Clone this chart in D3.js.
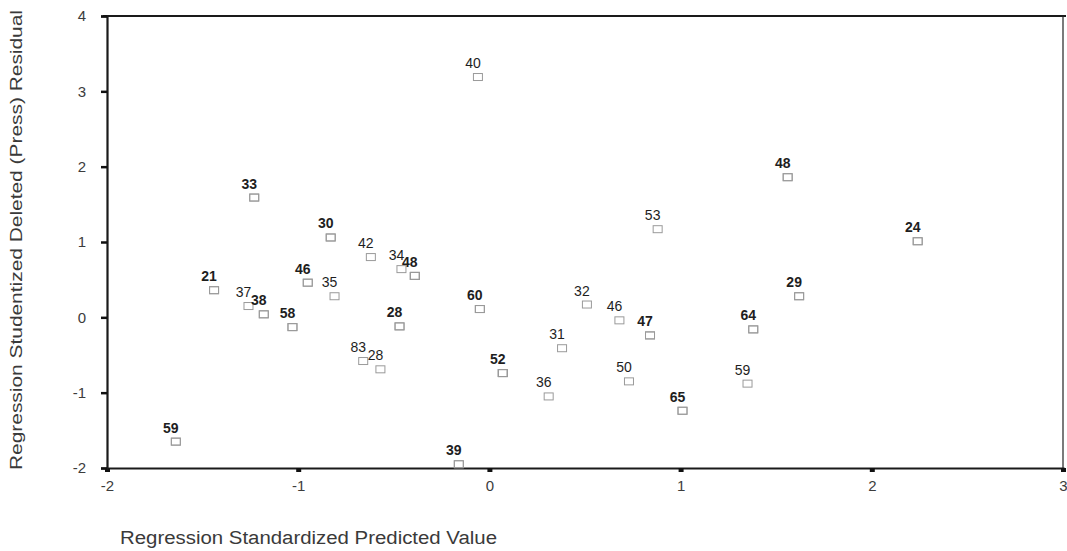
<!DOCTYPE html>
<html>
<head>
<meta charset="utf-8">
<script src="https://cdn.jsdelivr.net/npm/d3@7"></script>
<style>
  body { margin: 0; background: #fff; }
  svg { display: block; font-family: "Liberation Sans", Arial, sans-serif; }
</style>
</head>
<body>
<svg id="chart" width="1067" height="551"></svg>
<script>
// case numbers, standardized predicted value, studentized deleted residual
// (cases that sit on the same spot share coordinates; only one label is printed there)
var caseIds   = ["40", "33", "37", "30", "39", "42", "34", "48", "58", "43",
                 "48", "42", "53", "24", "34", "21", "41", "46", "45", "35",
                 "37", "38", "39", "58", "56", "28", "20", "60", "45", "52",
                 "32", "46", "47", "44", "29", "23", "64", "62", "31", "83",
                 "28", "52", "57", "36", "50", "59", "65", "55", "59", "58",
                 "39", "38"];
var predicted = [-0.06, -1.23, -1.23, -0.83, -0.83, -0.62, -0.46, -0.39, -0.39, -0.39,
                  1.56,  1.56,  0.88,  2.24,  2.24, -1.44, -1.44, -0.95, -0.95, -0.81,
                 -1.26, -1.18, -1.18, -1.03, -1.03, -0.47, -0.47, -0.05, -0.05,  0.07,
                  0.51,  0.68,  0.84,  0.84,  1.62,  1.62,  1.38,  1.38,  0.38, -0.66,
                 -0.57,  0.07,  0.07,  0.31,  0.73,  1.35,  1.01,  1.01, -1.64, -1.64,
                 -0.16, -0.16];
var residual  = [ 3.19,  1.59,  1.59,  1.06,  1.06,  0.80,  0.64,  0.55,  0.55,  0.55,
                  1.86,  1.86,  1.17,  1.01,  1.01,  0.36,  0.36,  0.46,  0.46,  0.28,
                  0.15,  0.04,  0.04, -0.13, -0.13, -0.12, -0.12,  0.11,  0.11, -0.74,
                  0.17, -0.04, -0.24, -0.24,  0.28,  0.28, -0.16, -0.16, -0.41, -0.58,
                 -0.69, -0.74, -0.74, -1.05, -0.85, -0.88, -1.24, -1.24, -1.65, -1.65,
                 -1.95, -1.95];

var xTicks = [-2, -1, 0, 1, 2, 3];
var yTicks = [-2, -1, 0, 1, 2, 3, 4];

var xTitle = "Regression Standardized Predicted Value";
var yTitle = "Regression Studentized Deleted (Press) Residual";

var svg = d3.select("#chart");
var margin = {top: 16, right: 4, bottom: 83, left: 107};
var width = 1067 - margin.left - margin.right,
    height = 551 - margin.top - margin.bottom;

var g = svg.append("g").attr("transform", "translate(" + margin.left + "," + margin.top + ")");

var x = d3.scaleLinear().domain([-2, 3]).range([0, width]);
var y = d3.scaleLinear().domain([-2, 4]).range([height, 0]);

var points = caseIds.map(function(id, i) {
    return {id: id, x: predicted[i], y: residual[i]};
});

// one label per spot, heavier where several cases pile up
var spots = d3.groups(points, function(d) { return d.x + "|" + d.y; })
    .map(function(s) { return {id: s[1][0].id, x: s[1][0].x, y: s[1][0].y, n: s[1].length}; });

var fmt = function(d) { return String(d); };   // plain hyphen minus like the original

// frame: heavy top, thin right
g.append("line").attr("x1", -4).attr("x2", width + 3).attr("y1", 0).attr("y2", 0)
    .attr("stroke", "#1a1a1a").attr("stroke-width", 2);
g.append("line").attr("x1", width).attr("x2", width).attr("y1", 0).attr("y2", height)
    .attr("stroke", "#222").attr("stroke-width", 1.2);

// axes
var xAxis = g.append("g").attr("transform", "translate(0," + height + ")")
    .call(d3.axisBottom(x).tickValues(xTicks).tickSize(4).tickFormat(fmt));
var yAxis = g.append("g")
    .call(d3.axisLeft(y).tickValues(yTicks).tickSize(6).tickFormat(fmt));

[xAxis, yAxis].forEach(function(a) {
    a.attr("font-size", null).attr("font-family", null);
    a.select(".domain").attr("stroke", "#1a1a1a").attr("stroke-width", 2.2);
    a.selectAll(".tick text").attr("fill", "#3c3c3c").style("font-size", "15px");
});
xAxis.selectAll(".tick text").attr("dy", "1.05em");
yAxis.selectAll(".tick text").attr("x", -21);
yAxis.selectAll(".tick line").attr("stroke", "#111").attr("stroke-width", 2.5);
xAxis.selectAll(".tick line").attr("stroke", "#111").attr("stroke-width", 5);

// points
g.selectAll("rect.pt").data(points).enter().append("rect")
    .attr("class", "pt")
    .attr("x", function(d) { return x(d.x) - 4.5; })
    .attr("y", function(d) { return y(d.y) - 3.5; })
    .attr("width", 9).attr("height", 7)
    .attr("fill", "none").attr("stroke", "#9a9a9a").attr("stroke-width", 1);

g.selectAll("text.lbl").data(spots).enter().append("text")
    .attr("class", "lbl")
    .attr("x", function(d) { return x(d.x) - 5; })
    .attr("y", function(d) { return y(d.y) - 9; })
    .attr("text-anchor", "middle")
    .attr("fill", "#1e1e1e")
    .style("font-size", "14px")
    .style("font-weight", function(d) { return d.n > 1 ? "bold" : "normal"; })
    .text(function(d) { return d.id; });

// axis titles
svg.append("text")
    .attr("x", 120).attr("y", 544)
    .attr("fill", "#3a3a3a").style("font-size", "18px")
    .attr("textLength", 377).attr("lengthAdjust", "spacingAndGlyphs")
    .text(xTitle);

svg.append("text")
    .attr("transform", "translate(22," + 240 + ") rotate(-90)")
    .attr("text-anchor", "middle")
    .attr("fill", "#3a3a3a").style("font-size", "17px")
    .attr("textLength", 460).attr("lengthAdjust", "spacingAndGlyphs")
    .text(yTitle);
</script>
</body>
</html>
